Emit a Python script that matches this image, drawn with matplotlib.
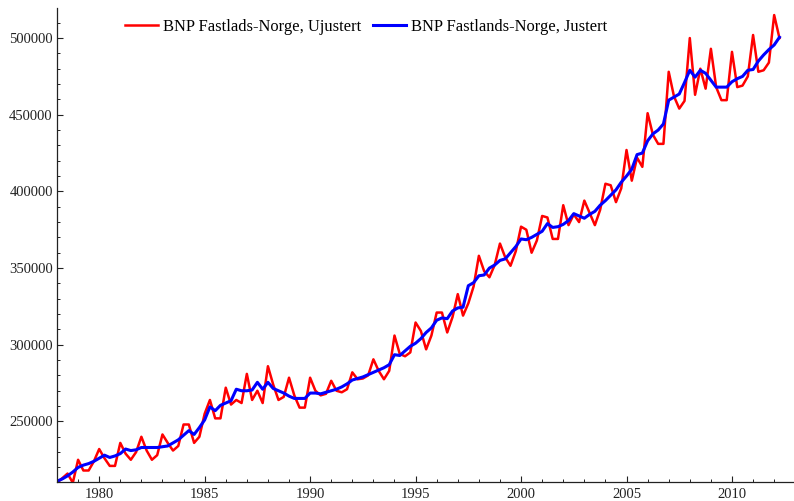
import numpy as np
import matplotlib
matplotlib.use("Agg")
import matplotlib.pyplot as plt
from matplotlib.ticker import MultipleLocator

# kvartalsdata, fra 1978 K1 til 2012 K2
start_year = 1978

bnp_ujustert = [
    210000, 213000, 216000, 210000,
    225000, 218000, 218000, 224000,
    232000, 226000, 221000, 221000,
    236000, 229000, 225000, 230000,
    240000, 231000, 225000, 228000,
    241500, 236000, 231000, 234000,
    248000, 248000, 236000, 240000,
    255000, 264000, 252000, 252000,
    272000, 261000, 264000, 262000,
    281000, 264000, 270000, 262000,
    286000, 274000, 264000, 266000,
    278500, 267000, 259000, 259000,
    278500, 270000, 267000, 268000,
    276500, 270000, 269000, 271000,
    282000, 277500, 278000, 280000,
    290500, 283000, 277500, 283000,
    306000, 294000, 292500, 295000,
    314500, 309000, 297000, 306000,
    321000, 321000, 308000, 318000,
    333000, 319000, 327000, 338000,
    358000, 348000, 344000, 352000,
    366000, 357000, 351500, 361000,
    377000, 375000, 360000, 368000,
    384000, 383000, 369000, 369000,
    391000, 378000, 385000, 380000,
    394000, 386000, 378000, 388000,
    405000, 404000, 393000, 402000,
    427000, 407000, 422000, 416000,
    451000, 437000, 431000, 431000,
    478000, 462000, 454000, 459000,
    500000, 463000, 480000, 467000,
    493000, 468000, 459500, 459500,
    491000, 468000, 469000, 475000,
    502000, 478000, 479000, 484000,
    515000, 500000,
]

bnp_justert = [
    211000, 212500, 214500, 217000,
    220000, 221500, 222500, 224000,
    226000, 228000, 226500, 227500,
    229000, 232000, 231000, 231500,
    233000, 233000, 233000, 233000,
    233500, 234000, 236000, 238000,
    241000, 244000, 241500, 246000,
    251000, 259500, 257000, 260500,
    262000, 263500, 271000, 270000,
    270000, 270500, 275500, 271000,
    275500, 271500, 270000, 268500,
    266500, 265000, 265000, 265000,
    268500, 268500, 268000, 269000,
    270000, 271000, 272500, 274500,
    277000, 278000, 279000, 280500,
    282000, 283500, 285000, 287000,
    293500, 293000, 296000, 299000,
    301000, 304000, 308000, 311000,
    316000, 317500, 317000, 322000,
    324000, 324500, 338500, 340500,
    345000, 345500, 350000, 352000,
    355000, 356000, 360000, 364000,
    369000, 368500, 370000, 372000,
    374000, 379000, 376500, 377000,
    378500, 381000, 385500, 384000,
    382500, 385000, 387000, 391000,
    394000, 397500, 401000, 406000,
    410000, 414500, 424000, 425000,
    433000, 437500, 440000, 444000,
    459500, 461500, 463500, 471000,
    479000, 474500, 479000, 477000,
    472500, 468000, 468000, 468000,
    471500, 473500, 475000, 479000,
    479500, 485000, 489000, 492500,
    495500, 500500,
]

label_ujustert = "BNP Fastlads-Norge, Ujustert"
label_justert = "BNP Fastlands-Norge, Justert"

# tid i aar, ett punkt per kvartal
tid = start_year + np.arange(len(bnp_ujustert)) / 4.0

plt.rcParams['font.family'] = ['Liberation Serif', 'DejaVu Serif']

fig = plt.figure(figsize=(7.94, 5.01), dpi=100)
ax = fig.add_axes([57 / 794, 19 / 501, 737 / 794, 474 / 501])

ax.plot(tid, bnp_ujustert, color='#ff0000', lw=1.8, label=label_ujustert)
ax.plot(tid, bnp_justert, color='#0000ff', lw=2.2, label=label_justert)

ax.set_xlim(1978.0, 2012.94)
ax.set_ylim(210500, 519600)

# Mathematica-aktige akser
ax.spines['top'].set_visible(False)
ax.spines['right'].set_visible(False)
for s in ('left', 'bottom'):
    ax.spines[s].set_linewidth(0.9)
    ax.spines[s].set_color('#222222')

ax.xaxis.set_major_locator(MultipleLocator(5))
ax.xaxis.set_minor_locator(MultipleLocator(1))
ax.yaxis.set_major_locator(MultipleLocator(50000))
ax.yaxis.set_minor_locator(MultipleLocator(10000))
ax.tick_params(which='major', direction='in', length=4.5, width=0.8,
               labelsize=10.5, colors='#222222', pad=3)
ax.tick_params(which='minor', direction='in', length=2.5, width=0.7,
               colors='#222222')
ax.tick_params(axis='x', pad=4)

leg = ax.legend(loc='center', bbox_to_anchor=(366 / 794, 1 - 27 / 501),
                bbox_transform=fig.transFigure, ncol=2, frameon=False,
                fontsize=11.9, handlelength=2.0, handletextpad=0.3,
                columnspacing=0.7)

fig.savefig('out.png', dpi=100)
